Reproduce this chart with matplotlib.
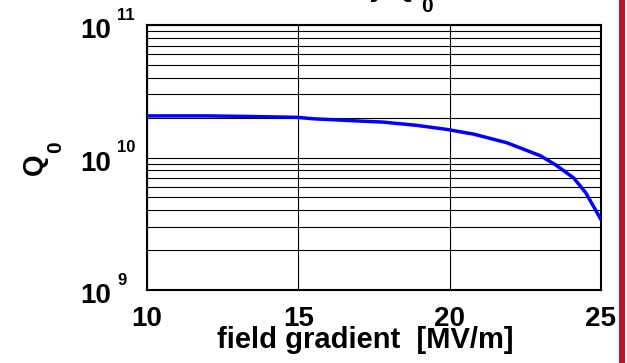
import matplotlib
matplotlib.use('Agg')
import matplotlib.pyplot as plt
import matplotlib.transforms as mtransforms
from matplotlib.patches import Rectangle
from matplotlib.ticker import LogLocator, NullFormatter

plt.rcParams['font.family'] = ['Liberation Sans', 'DejaVu Sans']
plt.rcParams['font.weight'] = 'bold'

# data
field = [10.0, 12.0, 13.4, 14.95, 15.5, 16.7, 17.8, 18.9, 19.9, 20.8, 21.9,
         23.0, 23.5, 24.1, 24.5, 25.0]
q0 = [2.06e10, 2.06e10, 2.04e10, 2.01e10, 1.96e10, 1.90e10, 1.85e10, 1.75e10,
      1.63e10, 1.50e10, 1.29e10, 1.03e10, 8.8e9, 7.0e9, 5.4e9, 3.4e9]
xticks = [10, 15, 20, 25]
ydecades = [9, 10, 11]

W, H = 627, 363
fig = plt.figure(figsize=(W / 100, H / 100), dpi=100)
ax = fig.add_axes([147 / W, 73 / H, 454 / W, 265 / H])

ax.semilogy(field, q0, color='#0000ff', lw=2.5, zorder=3)
ax.set_xlim(10, 25)
ax.set_ylim(1e9, 1e11)

ax.set_xticks(xticks)
ax.set_xticklabels([str(t) for t in xticks], fontsize=20, fontweight='bold')
ax.tick_params(axis='x', length=0, pad=11.5)

ax.yaxis.set_minor_locator(LogLocator(base=10, subs=range(2, 10)))
ax.yaxis.set_minor_formatter(NullFormatter())
ax.tick_params(axis='y', which='both', length=0, labelleft=False)

ax.grid(True, which='both', axis='y', color='k', lw=0.8)
ax.grid(True, which='major', axis='x', color='k', lw=0.8)
for s in ax.spines.values():
    s.set_linewidth(1.5)

# y tick labels as 10 + raised exponent
base = ax.get_yaxis_transform()
for d in ydecades:
    t1 = mtransforms.offset_copy(base, fig=fig, x=0, y=-9.7, units='points')
    t2 = mtransforms.offset_copy(base, fig=fig, x=0, y=3.6, units='points')
    ax.text(-0.0793, 10.0 ** d, '10', transform=t1, ha='right', va='baseline',
            fontsize=20, fontweight='bold')
    ax.text(-0.0661, 10.0 ** d, str(d), transform=t2, ha='left', va='baseline',
            fontsize=12, fontweight='bold')

ax.set_xlabel('field gradient  [MV/m]', fontsize=21, fontweight='bold')
ax.xaxis.set_label_coords(0.481, -0.219)
ax.xaxis.label.set_verticalalignment('baseline')

# y label Q_0 (rotated)
fig.text(42 / W, 1 - 175 / H, 'Q', rotation=90, rotation_mode='anchor',
         ha='left', va='baseline', fontsize=20, fontweight='bold')
fig.text(61 / W, 1 - 153 / H, '0', rotation=90, rotation_mode='anchor',
         ha='left', va='baseline', fontsize=15, fontweight='bold')

# title, mostly cut off at the top
fig.text(414 / W, 1 + 4 / H, 'Cavity Q', ha='right', va='baseline',
         fontsize=20, fontweight='bold')
fig.text(421 / W, 1 - 12 / H, '0', ha='left', va='baseline',
         fontsize=15, fontweight='bold')

# red bar at the right edge
fig.add_artist(Rectangle((619 / W, 0), 6 / W, 1, transform=fig.transFigure,
                         facecolor='#c0102a', edgecolor='none'))

fig.savefig('out.png', dpi=100)
